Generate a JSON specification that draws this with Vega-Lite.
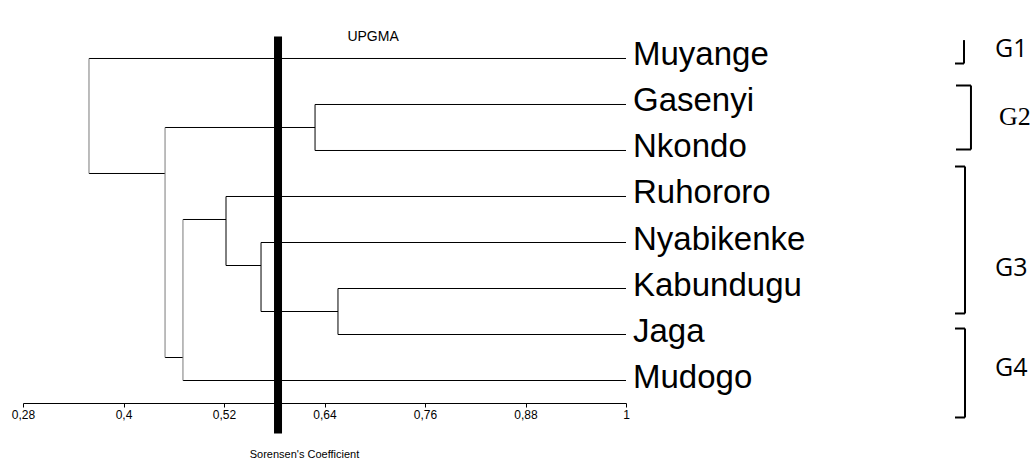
{
  "$schema": "https://vega.github.io/schema/vega-lite/v6.json",
  "width": 795,
  "height": 403,
  "autosize": {"type": "none"},
  "padding": {"left": 23, "top": 0, "right": 217, "bottom": 57},
  "background": "white",
  "config": {"view": {"stroke": null}, "font": "Liberation Sans"},
  "datasets": {
    "links": [
      {"x": 0.3588, "x2": 1, "y": 0, "y2": 0, "grp": "inner"},
      {"x": 0.6287, "x2": 1, "y": 1, "y2": 1, "grp": "inner"},
      {"x": 0.6287, "x2": 1, "y": 2, "y2": 2, "grp": "inner"},
      {"x": 0.5224, "x2": 1, "y": 3, "y2": 3, "grp": "inner"},
      {"x": 0.5642, "x2": 1, "y": 4, "y2": 4, "grp": "inner"},
      {"x": 0.6561, "x2": 1, "y": 5, "y2": 5, "grp": "inner"},
      {"x": 0.6561, "x2": 1, "y": 6, "y2": 6, "grp": "inner"},
      {"x": 0.471, "x2": 1, "y": 7, "y2": 7, "grp": "inner"},
      {"x": 0.4496, "x2": 0.6287, "y": 1.5, "y2": 1.5, "grp": "inner"},
      {"x": 0.5642, "x2": 0.6561, "y": 5.5, "y2": 5.5, "grp": "inner"},
      {"x": 0.5224, "x2": 0.5642, "y": 4.5, "y2": 4.5, "grp": "inner"},
      {"x": 0.471, "x2": 0.5224, "y": 3.5, "y2": 3.5, "grp": "inner"},
      {"x": 0.4496, "x2": 0.471, "y": 6.5, "y2": 6.5, "grp": "inner"},
      {"x": 0.3588, "x2": 0.4496, "y": 2.5, "y2": 2.5, "grp": "inner"},
      {"x": 0.3588, "x2": 0.3588, "y": 0, "y2": 2.5, "grp": "outer"},
      {"x": 0.4496, "x2": 0.4496, "y": 1.5, "y2": 6.5, "grp": "outer"},
      {"x": 0.471, "x2": 0.471, "y": 3.5, "y2": 7, "grp": "outer"},
      {"x": 0.5224, "x2": 0.5224, "y": 3, "y2": 4.5, "grp": "inner"},
      {"x": 0.5642, "x2": 0.5642, "y": 4, "y2": 5.5, "grp": "inner"},
      {"x": 0.6561, "x2": 0.6561, "y": 5, "y2": 6, "grp": "inner"},
      {"x": 0.6287, "x2": 0.6287, "y": 1, "y2": 2, "grp": "inner"}
    ],
    "cut": [{"x": 0.5845, "y": -0.478, "y2": 8.152}],
    "leaves": [
      {"name": "Muyange", "x": 1, "y": 0},
      {"name": "Gasenyi", "x": 1, "y": 1},
      {"name": "Nkondo", "x": 1, "y": 2},
      {"name": "Ruhororo", "x": 1, "y": 3},
      {"name": "Nyabikenke", "x": 1, "y": 4},
      {"name": "Kabundugu", "x": 1, "y": 5},
      {"name": "Jaga", "x": 1, "y": 6},
      {"name": "Mudogo", "x": 1, "y": 7}
    ],
    "method": [{"label": "UPGMA", "x": 0.698, "y": -0.457}],
    "brackets": [
      {"x": 1.4036, "x2": 1.4036, "y": -0.4, "y2": 0.109},
      {"x": 1.3928, "x2": 1.4036, "y": 0.109, "y2": 0.109},
      {"x": 1.4119, "x2": 1.4119, "y": 0.587, "y2": 1.978},
      {"x": 1.394, "x2": 1.4119, "y": 0.587, "y2": 0.587},
      {"x": 1.394, "x2": 1.4119, "y": 1.978, "y2": 1.978},
      {"x": 1.4048, "x2": 1.4048, "y": 2.348, "y2": 5.543},
      {"x": 1.3928, "x2": 1.4048, "y": 2.348, "y2": 2.348},
      {"x": 1.3928, "x2": 1.4048, "y": 5.543, "y2": 5.543},
      {"x": 1.4048, "x2": 1.4048, "y": 5.87, "y2": 7.804},
      {"x": 1.3928, "x2": 1.4048, "y": 5.87, "y2": 5.87},
      {"x": 1.3928, "x2": 1.4048, "y": 7.804, "y2": 7.804}
    ],
    "groups": [
      {"label": "G1", "x": 1.4406, "y": -0.022},
      {"label": "G2", "x": 1.4454, "y": 1.435},
      {"label": "G3", "x": 1.4406, "y": 4.739},
      {"label": "G4", "x": 1.4406, "y": 6.913}
    ]
  },
  "encoding": {
    "x": {
      "field": "x",
      "type": "quantitative",
      "scale": {"domain": [0.28, 1], "range": [0, 603], "nice": false, "zero": false},
      "axis": {
        "values": [0.28, 0.4, 0.52, 0.64, 0.76, 0.88, 1],
        "labelExpr": "replace(toString(datum.value), '.', ',')",
        "title": "Sorensen's Coefficient",
        "titleFont": "Liberation Sans",
        "titleFontSize": 11,
        "titleFontWeight": "normal",
        "titleColor": "#000000",
        "titleX": 281,
        "titleY": 54,
        "titleAlign": "center",
        "titleBaseline": "alphabetic",
        "labelFont": "Liberation Sans",
        "labelFontSize": 12,
        "labelColor": "#000000",
        "labelPadding": 2,
        "labelFlush": false,
        "labelOverlap": false,
        "tickColor": "#000000",
        "tickSize": 4,
        "domainColor": "#000000",
        "grid": false
      }
    },
    "y": {
      "field": "y",
      "type": "quantitative",
      "scale": {"domain": [-1.2717, 7.4891], "reverse": true, "nice": false, "zero": false},
      "axis": null
    }
  },
  "layer": [
    {
      "data": {"name": "links"},
      "mark": {"type": "rule", "strokeWidth": 1},
      "encoding": {
        "x2": {"field": "x2"},
        "y2": {"field": "y2"},
        "color": {
          "field": "grp",
          "type": "nominal",
          "scale": {"domain": ["outer", "inner"], "range": ["#7a7a7a", "#000000"]},
          "legend": null
        }
      }
    },
    {
      "data": {"name": "cut"},
      "mark": {"type": "rule", "strokeWidth": 8, "color": "#000000"},
      "encoding": {"y2": {"field": "y2"}}
    },
    {
      "data": {"name": "leaves"},
      "mark": {"type": "text", "clip": true, "align": "left", "baseline": "alphabetic", "dx": 7, "dy": 7, "fontSize": 33, "font": "Liberation Sans", "color": "#000000"},
      "encoding": {"text": {"field": "name"}}
    },
    {
      "data": {"name": "method"},
      "mark": {"type": "text", "align": "center", "baseline": "middle", "fontSize": 14, "font": "Liberation Sans", "color": "#000000"},
      "encoding": {"text": {"field": "label"}}
    },
    {
      "data": {"name": "brackets"},
      "mark": {"type": "rule", "strokeWidth": 2, "color": "#000000"},
      "encoding": {"x2": {"field": "x2"}, "y2": {"field": "y2"}}
    },
    {
      "data": {"name": "groups"},
      "transform": [{"filter": "datum.label != 'G2'"}],
      "mark": {"type": "text", "align": "left", "baseline": "alphabetic", "fontSize": 25, "font": "Open Sans", "color": "#000000"},
      "encoding": {"text": {"field": "label"}}
    },
    {
      "data": {"name": "groups"},
      "transform": [{"filter": "datum.label == 'G2'"}],
      "mark": {"type": "text", "align": "left", "baseline": "alphabetic", "fontSize": 26, "font": "Liberation Serif", "color": "#000000"},
      "encoding": {"text": {"field": "label"}}
    }
  ]
}
